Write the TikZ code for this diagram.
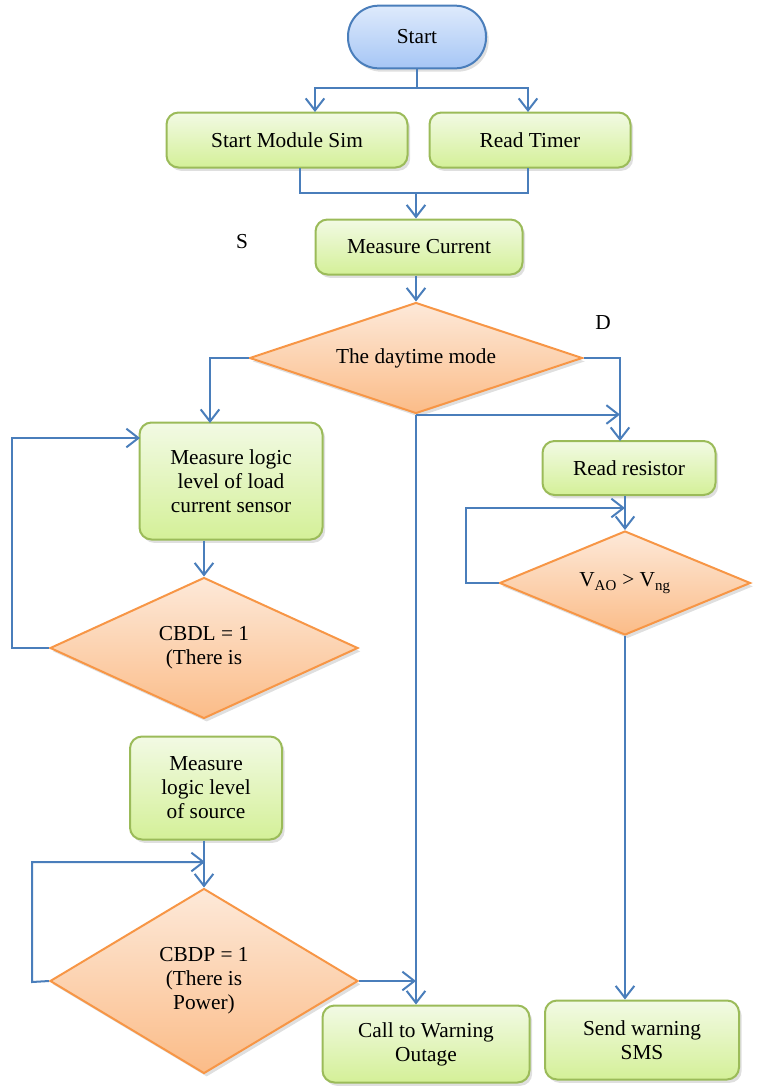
\documentclass[tikz,border=0pt]{standalone}
\usepackage{fontspec}
\setmainfont{Liberation Serif}
\usetikzlibrary{arrows.meta,shapes.geometric,shadows}

\definecolor{flowblue}{RGB}{74,126,187}
\definecolor{boxedge}{RGB}{155,187,89}
\definecolor{boxtop}{RGB}{242,250,228}
\definecolor{boxbot}{RGB}{212,240,152}
\definecolor{dmdedge}{RGB}{247,150,70}
\definecolor{dmdtop}{RGB}{253,233,217}
\definecolor{dmdbot}{RGB}{251,188,136}
\definecolor{termtop}{RGB}{222,234,252}
\definecolor{termbot}{RGB}{166,198,245}

\tikzset{every picture/.style={line width=0.75pt}}
\tikzset{
  softshadow/.style={drop shadow={opacity=0.25,shadow xshift=2pt,shadow yshift=-2.5pt}},
  termbox/.style={draw=flowblue,line width=1.5pt,rounded corners=23pt,top color=termtop,bottom color=termbot,softshadow},
  greenbox/.style={draw=boxedge,line width=1.5pt,rounded corners=9pt,top color=boxtop,bottom color=boxbot,align=center,softshadow},
  decision/.style={diamond,draw=dmdedge,line width=1.5pt,inner sep=0pt,top color=dmdtop,bottom color=dmdbot,align=center,softshadow},
  flow/.style={draw=flowblue,line width=1.5pt,-{Straight Barb[length=9pt,width=14pt]}},
  link/.style={draw=flowblue,line width=1.5pt}
}

\begin{document}
\begin{tikzpicture}[x=0.75pt,y=0.75pt,yscale=-1,xscale=1,font=\fontsize{16}{18}\selectfont]
    \useasboundingbox (0,0) rectangle (761,1086);

    %Shape: Terminal
    \node (start) at (417,37) [termbox,minimum width=103.5pt,minimum height=47pt] {Start};
    %Shape: Rounded Rectangle
    \node (sim) at (287,140) [greenbox,minimum width=180.75pt,minimum height=41.25pt] {Start Module Sim};
    \node (timer) at (530,140) [greenbox,minimum width=150.75pt,minimum height=41.25pt] {Read Timer};
    \node (current) at (419,247) [greenbox,minimum width=155.25pt,minimum height=41.25pt] {Measure Current};
    %Shape: Diamond
    \node (daytime) at (416,358) [decision,shape aspect=3,minimum width=249.75pt,minimum height=83.25pt] {The daytime mode};
    %Shape: Rounded Rectangle
    \node (loadbox) at (231,481) [greenbox,minimum width=137.25pt,minimum height=87.75pt] {Measure logic\\level of load\\current sensor};
    %Shape: Diamond
    \node (cbdl) at (204,648) [decision,shape aspect=2.2,minimum width=231pt,minimum height=105.75pt] {CBDL = 1\\(There is};
    %Shape: Rounded Rectangle
    \node (srcbox) at (206,788) [greenbox,minimum width=114pt,minimum height=77.25pt] {Measure\\logic level\\of source};
    %Shape: Diamond
    \node (cbdp) at (204,981) [decision,shape aspect=1.66,minimum width=231pt,minimum height=138.75pt] {CBDP = 1\\(There is\\Power)};
    %Shape: Rounded Rectangle
    \node (call) at (426,1044) [greenbox,minimum width=155.25pt,minimum height=57.75pt] {Call to Warning\\Outage};
    \node (resistor) at (629,468) [greenbox,minimum width=129.75pt,minimum height=40.5pt] {Read resistor};
    %Shape: Diamond
    \node (vdiag) at (625,583) [decision,shape aspect=2.4,minimum width=188.25pt,minimum height=78pt] {V\textsubscript{AO} > V\textsubscript{ng}};
    %Shape: Rounded Rectangle
    \node (sms) at (642,1040) [greenbox,minimum width=145.5pt,minimum height=59.25pt] {Send warning\\SMS};

    % Text Node
    \node (lbls) at (242,242) {S};
    % Text Node
    \node (lbld) at (603,323) {D};

    %Bend points
    \coordinate (split) at (417,88);
    \coordinate (simin) at (315,112);
    \coordinate (timerin) at (528,112);
    \coordinate (simout) at (300,168);
    \coordinate (timerout) at (528,168);
    \coordinate (merge) at (416,193);
    \coordinate (loadin) at (210,423);
    \coordinate (resin) at (620,441);
    \coordinate (lpa) at (12,648);
    \coordinate (lpb) at (12,438);
    \coordinate (lpc) at (140,438);
    \coordinate (lqa) at (32,982);
    \coordinate (lqb) at (32,862);
    \coordinate (lqc) at (205,862);
    \coordinate (lra) at (466,583);
    \coordinate (lrb) at (466,508);
    \coordinate (lrc) at (625,508);

    %Straight Lines
    \draw[link] (start.south) -- (split);
    \draw[flow] (split) -| (simin);
    \draw[flow] (split) -| (timerin);
    \draw[link] (simout) |- (merge);
    \draw[link] (timerout) |- (merge);
    \draw[flow] (merge) -- (merge |- current.north);
    \draw[flow] (daytime.north |- current.south) -- (daytime.north);
    \draw[flow] (daytime.west) -| (loadin);
    \draw[flow] (daytime.east) -| (resin);
    \draw[flow] (daytime.south) -- (daytime.south -| resin);
    \draw[flow] (daytime.south) -- (daytime.south |- call.north);
    \draw[flow] (cbdl.north |- loadbox.south) -- (cbdl.north);
    \draw[flow] (cbdl.west) -- (lpa) -- (lpb) -- (lpc);
    \draw[flow] (cbdp.north |- srcbox.south) -- (cbdp.north);
    \draw[flow] (cbdp.west) -- (lqa) -- (lqb) -- (lqc);
    \draw[flow] (cbdp.east) -- (cbdp.east -| daytime.south);
    \draw[flow] (vdiag.north |- resistor.south) -- (vdiag.north);
    \draw[flow] (vdiag.west) -- (lra) -- (lrb) -- (lrc);
    \draw[flow] (vdiag.south) -- (vdiag.south |- sms.north);
\end{tikzpicture}
\end{document}
